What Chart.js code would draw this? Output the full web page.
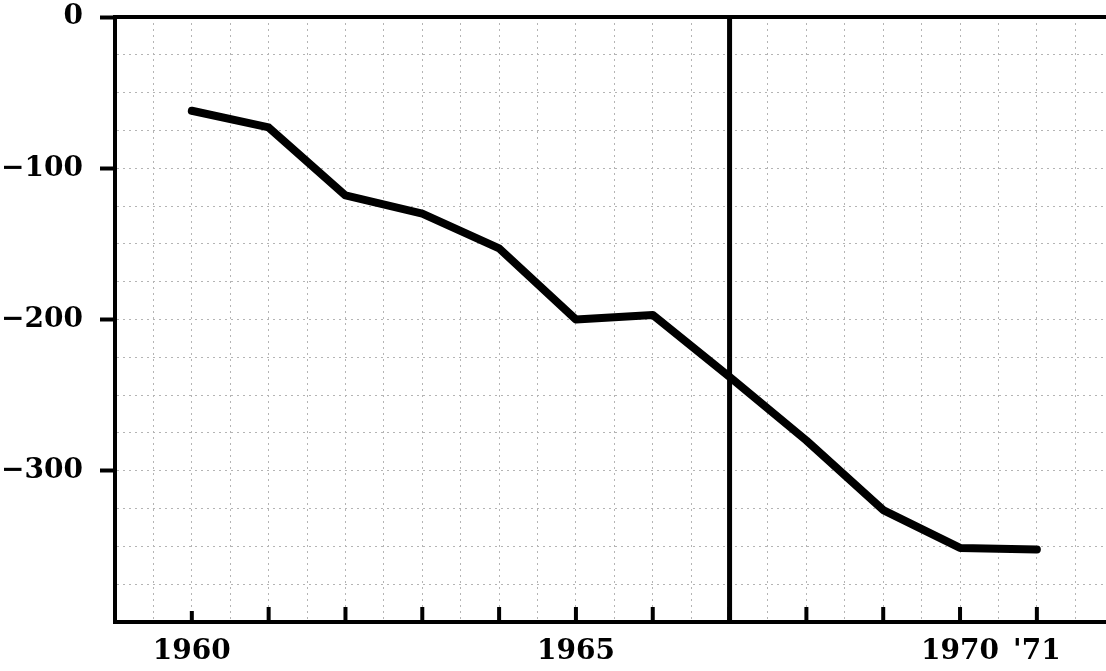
<!DOCTYPE html>
<html>
<head>
<meta charset="utf-8">
<script src="https://cdn.jsdelivr.net/npm/chart.js@4/dist/chart.umd.min.js"></script>
<style>
  html, body { margin: 0; padding: 0; background: #ffffff; }
  #wrap { width: 1106px; height: 671px; }
</style>
</head>
<body>
<div id="wrap"><canvas id="c" width="1106" height="671"></canvas></div>
<script>
// ---- data ----
const years = [1960, 1961, 1962, 1963, 1964, 1965, 1966, 1967, 1968, 1969, 1970, 1971];
const values = [-62, -73, -118, -130, -153, -200, -197, -238, -280, -326, -351, -352];
const xLabelYears = [1960, 1965, 1970, 1971];
const xLabelTexts = ['1960', '1965', '1970', "'71"];
const yLabelValues = [0, -100, -200, -300];
const yLabelTexts = ['0', '\u2212100', '\u2212200', '\u2212300'];
const markerYears = [1967];
const yRange = [-400, 0];
const xRange = [1959, 1971.9];

const seriesPoints = years.map((y, i) => ({ x: y, y: values[i] }));
const markerPoints = [{ x: markerYears[0], y: yRange[1] }, { x: markerYears[0], y: yRange[0] }];

const GRID = '#b4b4b4';
const FONT = '"DejaVu Serif", serif';

const innerTicks = {
  id: 'innerTicks',
  afterDatasetsDraw(chart) {
    const xs = chart.scales.x;
    const bottom = chart.chartArea.bottom;
    const ctx = chart.ctx;
    ctx.save();
    ctx.strokeStyle = '#000';
    ctx.lineWidth = 4;
    years.forEach((yr, i) => {
      const px = xs.getPixelForValue(yr);
      const len = i === 0 ? 11 : 15;
      ctx.beginPath();
      ctx.moveTo(px, bottom);
      ctx.lineTo(px, bottom - len);
      ctx.stroke();
    });
    ctx.restore();
  }
};

new Chart(document.getElementById('c'), {
  type: 'line',
  data: {
    datasets: [
      {
        data: seriesPoints,
        borderColor: '#000',
        borderWidth: 8,
        pointRadius: 0,
        tension: 0,
        borderJoinStyle: 'round',
        borderCapStyle: 'round',
        fill: false
      },
      {
        data: markerPoints,
        borderColor: '#000',
        borderWidth: 5,
        pointRadius: 0,
        tension: 0,
        fill: false
      }
    ]
  },
  options: {
    responsive: false,
    animation: false,
    devicePixelRatio: 1,
    layout: { padding: { top: 17, left: 0, right: 0, bottom: 0 } },
    plugins: { legend: { display: false }, tooltip: { enabled: false } },
    scales: {
      x: {
        type: 'linear',
        position: 'bottom',
        min: xRange[0],
        max: xRange[1],
        afterFit: s => { s.height = 49; s.paddingLeft = 0; s.paddingRight = 0; },
        ticks: {
          stepSize: 0.5,
          includeBounds: false,
          autoSkip: false,
          maxRotation: 0,
          padding: 5,
          color: '#000',
          font: { family: FONT, size: 28, weight: 'bold', lineHeight: 1.2 },
          callback: v => { const i = xLabelYears.indexOf(v); return i >= 0 ? xLabelTexts[i] : ''; }
        },
        grid: {
          color: c => (c.tick && c.tick.value === xRange[0]) ? 'rgba(0,0,0,0)' : GRID,
          lineWidth: 1,
          tickLength: 8,
          tickColor: 'rgba(0,0,0,0)'
        },
        border: { display: true, color: '#000', width: 4, dash: [2, 4] }
      },
      xTop: {
        type: 'linear',
        position: 'top',
        min: xRange[0],
        max: xRange[1],
        afterFit: s => { s.height = 0; s.paddingLeft = 0; s.paddingRight = 0; },
        ticks: { display: false },
        grid: { display: false },
        border: { display: true, color: '#000', width: 4 }
      },
      y: {
        type: 'linear',
        position: 'left',
        min: yRange[0],
        max: yRange[1],
        afterFit: s => { s.width = 115; s.paddingTop = 0; s.paddingBottom = 0; },
        ticks: {
          stepSize: 25,
          padding: 17,
          color: '#000',
          font: { family: FONT, size: 28, weight: 'bold', lineHeight: 1.2 },
          callback: v => { const i = yLabelValues.indexOf(v); return i >= 0 ? yLabelTexts[i] : ''; }
        },
        grid: {
          color: c => (c.tick && (c.tick.value === yRange[0] || c.tick.value === yRange[1])) ? 'rgba(0,0,0,0)' : GRID,
          lineWidth: 1,
          tickLength: 15,
          tickWidth: 4,
          tickColor: c => (c.tick && yLabelValues.includes(c.tick.value)) ? '#000' : 'rgba(0,0,0,0)'
        },
        border: { display: true, color: '#000', width: 4, dash: [2, 4] }
      }
    }
  },
  plugins: [innerTicks]
});
</script>
</body>
</html>
